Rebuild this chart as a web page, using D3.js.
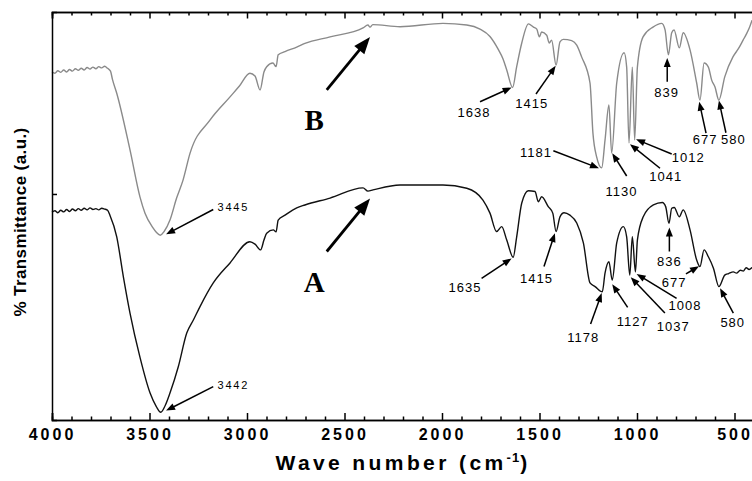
<!DOCTYPE html>
<html>
<head>
<meta charset="utf-8">
<script src="https://cdn.jsdelivr.net/npm/d3@7"></script>
<style>
    body { margin: 0; background: #fff; }
    svg { display: block; }
    .xTicks text { font-family: "Liberation Sans", Arial, sans-serif; font-weight: bold; font-size: 16px; letter-spacing: 3px; }
    .axisFrame path, .axisFrame line { stroke: #000; stroke-width: 1.5px; }
    .peak { font-family: "Liberation Sans", Arial, sans-serif; font-size: 13px; letter-spacing: 1px; fill: #000; }
    .peakSmall { font-family: "Liberation Sans", Arial, sans-serif; font-size: 11px; letter-spacing: 1.8px; fill: #000; }
    .curveName { font-family: "Liberation Serif", "Times New Roman", serif; font-weight: bold; font-size: 29px; fill: #000; }
</style>
</head>
<body>
<div id="chart"></div>
<script>
// ---- data (wave number in cm-1, transmittance in a.u.) ----
const waveB = [4000, 3985, 3970, 3955, 3940, 3925, 3910, 3895, 3880, 3865, 3850, 3835, 3820, 3805, 3790, 3775, 3760, 3745, 3730, 3715, 3700,
    3690, 3668, 3600, 3549, 3523, 3482, 3465, 3445, 3425, 3395, 3361, 3328, 3292, 3190, 3087, 3040, 2985, 2959, 2933, 2913, 2899, 2867, 2851,
    2840, 2805, 2745, 2703, 2574, 2405, 2380, 2369, 2355, 2215, 1995, 1873, 1805, 1754, 1710, 1687, 1668, 1638, 1617, 1591, 1557, 1531, 1514, 1501, 1489,
    1463, 1450, 1438, 1415, 1395, 1378, 1335, 1309, 1284, 1241, 1226, 1207, 1181, 1164, 1144, 1130, 1104, 1066, 1053, 1041, 1024, 1012, 998,
    969, 918, 873, 856, 839, 822, 810, 783, 763, 728, 694, 677, 656, 634, 617, 600, 580, 550, 508, 480, 456, 440, 425, 410];
const transB = [85.3, 85.0, 85.6, 85.2, 85.8, 85.3, 85.9, 85.5, 86.1, 85.7, 86.2, 85.8, 86.4, 86.0, 86.5, 86.1, 86.6, 86.3, 86.7, 86.2, 85.5,
    83.5, 80.1, 66.2, 54.7, 50.7, 47.1, 46.0, 45.3, 46.2, 49.0, 54.4, 58.8, 65.4, 73.5, 79.2, 81.8, 85.0, 84.3, 80.9, 85.3, 86.6, 87.5, 86.6,
    89.5, 90.3, 91.4, 92.3, 93.9, 96.1, 96.8, 96.3, 96.9, 96.4, 97.2, 96.8, 95.8, 94.0, 90.7, 88.5, 85.8, 81.5, 86.6, 92.4, 97.1, 96.3, 95.8, 93.9, 95.1,
    94.3, 92.4, 93.1, 87.0, 92.7, 93.3, 93.0, 91.9, 89.0, 82.6, 70.3, 64.5, 61.8, 68.6, 77.2, 65.4, 82.6, 90.0, 86.5, 67.9, 86.5, 68.6, 86.5,
    93.9, 96.3, 97.2, 95.6, 89.5, 94.9, 95.6, 91.2, 94.9, 90.7, 82.6, 78.4, 87.5, 86.5, 83.3, 81.6, 78.4, 84.1, 89.0, 91.0, 93.1, 94.5, 96.0, 98.0];

const waveA = [4000, 3985, 3970, 3955, 3940, 3925, 3910, 3895, 3880, 3865, 3850, 3835, 3820, 3805, 3790, 3775, 3760, 3745, 3730, 3715, 3703,
    3668, 3634, 3600, 3549, 3497, 3465, 3442, 3420, 3395, 3352, 3309, 3275, 3241, 3173, 3087, 2985, 2959, 2930, 2913, 2899, 2865, 2851, 2840,
    2805, 2745, 2703, 2574, 2405, 2380, 2354, 2215, 1995, 1873, 1790, 1754, 1720, 1694, 1668, 1635, 1617, 1591, 1557, 1523, 1506, 1489, 1455, 1432, 1415,
    1395, 1374, 1344, 1309, 1275, 1241, 1215, 1178, 1164, 1144, 1127, 1104, 1070, 1053, 1037, 1024, 1008, 998, 968, 916, 870, 853, 836, 822,
    809, 783, 763, 728, 694, 677, 656, 634, 608, 580, 550, 530, 506, 490, 470, 455, 440, 425, 410];
const transA = [50.9, 51.3, 50.8, 51.4, 51.0, 51.6, 51.1, 51.7, 51.3, 51.8, 51.4, 51.9, 51.5, 52.0, 51.6, 51.8, 51.5, 51.9, 51.7, 51.4, 50.2,
    44.9, 35.1, 26.2, 15.4, 6.6, 3.3, 1.9, 3.5, 6.6, 13.1, 21.3, 24.5, 27.8, 33.6, 38.5, 43.7, 43.1, 41.7, 44.1, 45.8, 46.6, 46.1, 49.0,
    50.2, 52.0, 52.7, 54.4, 56.9, 56.1, 56.4, 57.6, 57.6, 56.8, 53.9, 50.7, 46.2, 47.4, 44.1, 39.9, 44.9, 53.2, 56.2, 56.0, 53.5, 54.7, 52.3, 50.7, 46.2,
    49.8, 50.8, 50.2, 48.3, 43.4, 33.6, 32.7, 31.4, 36.0, 38.8, 34.3, 43.4, 47.4, 44.9, 35.5, 44.9, 36.3, 44.1, 49.8, 52.7, 53.3, 52.3, 48.2, 51.9,
    52.1, 49.8, 51.5, 46.6, 39.2, 37.6, 41.7, 40.0, 37.2, 32.7, 35.5, 35.9, 36.3, 36.0, 36.7, 36.5, 37.3, 36.9, 37.4];

const majorTicks = [4000, 3500, 3000, 2500, 2000, 1500, 1000, 500];
const minorTicks = d3.range(4000, 399, -100).filter(d => d % 500 !== 0);
const leftTicks = [55.4];

// peak labels: text, label (wave, value), arrow tail (wave, value), arrow tip (wave, value)
const peaksB = [
    ["1638", 1836, 75.3, 1805, 78.0, 1643, 81.5],
    ["1415", 1540, 77.5, 1518, 79.9, 1417, 86.8],
    ["1181", 1518, 65.5, 1429, 66.0, 1195, 61.7],
    ["1130", 1079, 56.0, 1053, 59.8, 1127, 65.4],
    ["1041", 853, 59.8, 882, 61.7, 1036, 67.6],
    ["1012", 737, 64.3, 822, 65.2, 1005, 68.8],
    ["839", 848, 80.2, 845, 82.9, 845, 88.7],
    ["677", 651, 68.8, 646, 70.3, 681, 78.0],
    ["580", 506, 68.8, 544, 70.4, 580, 78.3]
];
const peaksA = [
    ["1635", 1882, 32.5, 1797, 34.7, 1643, 39.6],
    ["1415", 1515, 34.7, 1477, 37.6, 1421, 45.8],
    ["1178", 1276, 20.2, 1238, 23.5, 1181, 31.1],
    ["1127", 1022, 24.3, 1048, 27.6, 1127, 33.3],
    ["1037", 814, 23.0, 857, 26.2, 1032, 35.0],
    ["1008", 754, 28.2, 797, 29.8, 1002, 35.8],
    ["836", 834, 38.8, 834, 41.3, 834, 47.2],
    ["677", 810, 33.7, 749, 35.8, 682, 37.7],
    ["580", 509, 23.9, 506, 26.2, 574, 32.3]
];
const peaksOH = [
    ["3445", 3070, 52.3, 3173, 51.6, 3415, 45.5],
    ["3442", 3070, 8.6, 3173, 8.2, 3415, 2.3]
];
// curve names: text, label (wave, value), arrow tail, arrow tip
const curveNames = [
    ["B", 2655, 73.5, 2591, 80.9, 2369, 93.9],
    ["A", 2655, 33.9, 2591, 41.3, 2369, 54.3]
];

let W = 752, H = 481;
let margin = { top: 12, right: -2, bottom: 61, left: 52 };

let svg = d3.select("#chart")
    .append("svg")
    .attr("width", W)
    .attr("height", H);

let x = d3.scaleLinear()
    .domain([4000, 400])
    .range([margin.left, W - margin.right]);

let y = d3.scaleLinear()
    .domain([0, 100])
    .range([H - margin.bottom, margin.top]);

// spectra
let line = d3.line()
    .x(d => x(d[0]))
    .y(d => y(d[1]))
    .curve(d3.curveMonotoneX);

svg.append("path")
    .datum(d3.zip(waveB, transB))
    .attr("fill", "none")
    .attr("stroke", "#8a8a8a")
    .attr("stroke-width", 1.4)
    .attr("stroke-linejoin", "round")
    .attr("d", line);

svg.append("path")
    .datum(d3.zip(waveA, transA))
    .attr("fill", "none")
    .attr("stroke", "#111")
    .attr("stroke-width", 1.4)
    .attr("stroke-linejoin", "round")
    .attr("d", line);

// axes: bottom with labels, top mirrored, ticks inward
let bottom = H - margin.bottom;
svg.append("g")
    .attr("class", "axisFrame xTicks")
    .attr("transform", `translate(0, ${bottom})`)
    .call(d3.axisBottom(x).tickValues(majorTicks).tickSize(-7).tickPadding(9).tickFormat(d3.format("d")));
svg.append("g")
    .attr("class", "axisFrame")
    .attr("transform", `translate(0, ${bottom})`)
    .call(d3.axisBottom(x).tickValues(minorTicks).tickSize(-3.5).tickFormat(""));
svg.append("g")
    .attr("class", "axisFrame")
    .attr("transform", `translate(0, ${margin.top})`)
    .call(d3.axisTop(x).tickValues(majorTicks).tickSize(-6.5).tickFormat(""));
svg.append("g")
    .attr("class", "axisFrame")
    .attr("transform", `translate(0, ${margin.top})`)
    .call(d3.axisTop(x).tickValues(minorTicks).tickSize(-3.5).tickFormat(""));
svg.append("g")
    .attr("class", "axisFrame")
    .attr("transform", `translate(${margin.left}, 0)`)
    .call(d3.axisLeft(y).tickValues(leftTicks).tickSize(-5).tickFormat(""));
svg.selectAll(".axisFrame .domain").attr("stroke-width", 1.6);

// axis titles
let xTitle = svg.append("text")
    .attr("x", (x.range()[0] + x.range()[1]) / 2)
    .attr("y", 470)
    .attr("text-anchor", "middle")
    .style("font-family", "'Liberation Sans', Arial, sans-serif")
    .style("font-weight", "bold")
    .style("font-size", "21px")
    .style("letter-spacing", "3.4px");
xTitle.append("tspan").text("Wave number (cm");
xTitle.append("tspan").attr("dy", -8).style("font-size", "13px").style("letter-spacing", "1px").text("-1");
xTitle.append("tspan").attr("dy", 8).text(")");

svg.append("text")
    .attr("transform", `translate(20, ${(margin.top + bottom) / 2 + 6}) rotate(-90)`)
    .attr("text-anchor", "middle")
    .attr("dy", "0.35em")
    .style("font-family", "'Liberation Sans', Arial, sans-serif")
    .style("font-weight", "bold")
    .style("font-size", "17px")
    .style("letter-spacing", "0.4px")
    .text("% Transmittance (a.u.)");

// arrows drawn from tail to tip with a filled head
function arrow(x1, y1, x2, y2, headLen, headW, lw) {
    let dx = x2 - x1, dy = y2 - y1;
    let L = Math.hypot(dx, dy), ux = dx / L, uy = dy / L;
    let bx = x2 - ux * headLen, by = y2 - uy * headLen;
    svg.append("line")
        .attr("x1", x1).attr("y1", y1)
        .attr("x2", bx + ux).attr("y2", by + uy)
        .attr("stroke", "#000")
        .attr("stroke-width", lw);
    svg.append("path")
        .attr("d", `M${x2},${y2}L${bx - uy * headW / 2},${by + ux * headW / 2}L${bx + uy * headW / 2},${by - ux * headW / 2}Z`)
        .attr("fill", "#000");
}

function peakLabels(rows, cls) {
    rows.forEach(function (p) {
        svg.append("text")
            .attr("class", cls)
            .attr("x", x(p[1]))
            .attr("y", y(p[2]))
            .attr("dy", "0.36em")
            .attr("text-anchor", "middle")
            .text(p[0]);
        arrow(x(p[3]), y(p[4]), x(p[5]), y(p[6]), 9, 7, 1.5);
    });
}
peakLabels(peaksB, "peak");
peakLabels(peaksA, "peak");
peakLabels(peaksOH, "peakSmall");

curveNames.forEach(function (c) {
    svg.append("text")
        .attr("class", "curveName")
        .attr("x", x(c[1]))
        .attr("y", y(c[2]))
        .attr("dy", "0.34em")
        .attr("text-anchor", "middle")
        .text(c[0]);
    arrow(x(c[3]), y(c[4]), x(c[5]), y(c[6]), 17, 13, 2.8);
});
</script>
</body>
</html>
